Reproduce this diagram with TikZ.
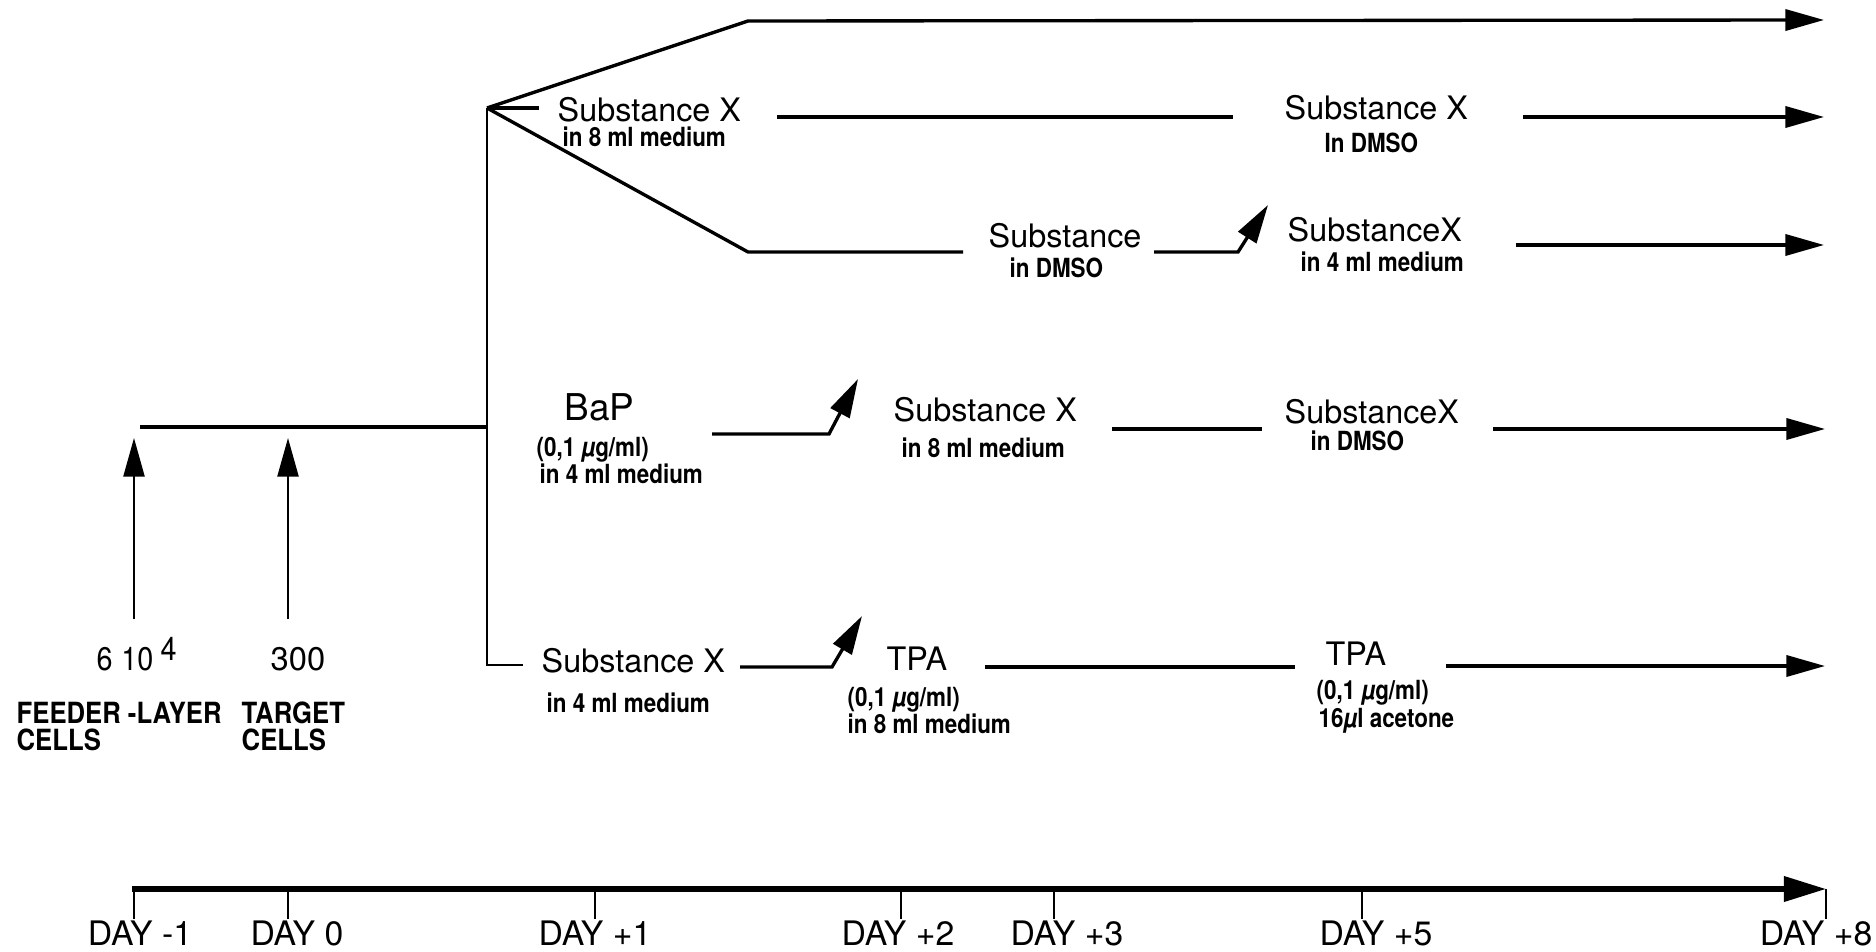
\documentclass[tikz,border=0pt]{standalone}
\usepackage{fontspec}
\setmainfont{TeX Gyre Heros}
\newfontfamily\smf[FakeStretch=0.85]{TeX Gyre Heros}
\newfontfamily\lbf[FakeStretch=0.88]{TeX Gyre Heros}
\usetikzlibrary{arrows.meta}
\begin{document}
\begin{tikzpicture}[x=0.01cm,y=-0.01cm,
  big/.style={inner sep=0,anchor=base west,font=\fontsize{9.2}{10}\selectfont},
  bap/.style={inner sep=0,anchor=base west,font=\fontsize{10.5}{12}\selectfont},
  small/.style={inner sep=0,anchor=base west,font=\smf\bfseries\fontsize{7.5}{8}\selectfont},
  cellsty/.style={inner sep=0,anchor=base west,font=\lbf\bfseries\fontsize{8.3}{9}\selectfont},
  numsty/.style={inner sep=0,anchor=base west,font=\fontsize{9.3}{10}\selectfont},
  daysty/.style={inner sep=0,anchor=base,font=\fontsize{9.6}{10}\selectfont},
  ln/.style={line width=0.95pt},
  trunk/.style={line width=0.8pt},
  arr/.style={ln,-{Triangle[length=11pt,width=6pt]}},
  uparr/.style={line width=0.6pt,-{Triangle[length=11pt,width=6pt]}},
  axis/.style={line width=1.5pt,-{Triangle[length=12pt,width=7pt]}},
  tick/.style={line width=0.6pt}
]
\useasboundingbox (0,0) rectangle (1876,952);

% ---------- coordinates ----------
\coordinate (feedS) at (140,427);
\coordinate (br) at (487,108);
\coordinate (feedE) at (487,427);
\coordinate (trunkB) at (487,665);
\coordinate (trunkE) at (523,665);
\coordinate (upK) at (748,21);
\coordinate (upE) at (1824,20);
\coordinate (midS) at (539,108);
\coordinate (dnK) at (748,252);
\coordinate (dnE) at (963,252);

% ---------- texts ----------
\node[big] (sx1) at (557,122) {Substance X};
\node[small] (sx1b) at (562,147) {in 8 ml medium};
\node[big] (sx2) at (1284,120) {Substance X};
\node[small] (sx2b) at (1324,153) {In DMSO};
\node[big] (s3) at (988,248) {Substance};
\node[small] (s3b) at (1009,278) {in DMSO};
\node[big] (sx4) at (1287,242) {SubstanceX};
\node[small] (sx4b) at (1300,272) {in 4 ml medium};

\node[bap] (bap) at (564,420) {BaP};
\node[small] (bapb) at (536,456) {(0,1 {\itshape µ}g/ml)};
\node[small] (bapc) at (539,483) {in 4 ml medium};
\node[big] (sx5) at (893,422) {Substance X};
\node[small] (sx5b) at (901,457) {in 8 ml medium};
\node[big] (sx6) at (1284,423) {SubstanceX};
\node[small] (sx6b) at (1310,450) {in DMSO};

\node[big] (sx7) at (541,672) {Substance X};
\node[small] (sx7b) at (546,712) {in 4 ml medium};
\node[big] (tpa1) at (886,670) {TPA};
\node[small] (tpa1b) at (847,706) {(0,1 {\itshape µ}g/ml)};
\node[small] (tpa1c) at (847,733) {in 8 ml medium};
\node[big] (tpa2) at (1325,665) {TPA};
\node[small] (tpa2b) at (1316,699) {(0,1 {\itshape µ}g/ml)};
\node[small] (tpa2c) at (1318,727) {16{\itshape µ}l acetone};

\node[numsty,font=\lbf\fontsize{9.3}{10}\selectfont] (n1) at (96,670) {6\hspace{2.5pt}10\hspace{2pt}\raisebox{2.6pt}{4}};
\node[numsty] (n2) at (270,670) {300};
\node[cellsty] (c1) at (16,723) {FEEDER -LAYER};
\node[cellsty] (c2) at (16,750) {CELLS};
\node[cellsty] (c3) at (241,723) {TARGET};
\node[cellsty] (c4) at (241,750) {CELLS};

% ---------- lines ----------
\draw[ln] (feedS) -- (feedE);
\draw[trunk] (br) -- (trunkB) -- (trunkE);
\draw[arr] (br) -- (upK) -- (upE);
\draw[ln] (br) -- (midS);
\draw[ln] (br) -- (dnK) -- (dnE);

\coordinate (m1) at (777,117); \coordinate (m2) at (1233,117);
\draw[ln] (m1) -- (m2);
\coordinate (m3) at (1523,117); \coordinate (m4) at (1824,117);
\draw[arr] (m3) -- (m4);

\coordinate (d1) at (1154,252); \coordinate (d2) at (1238,252); \coordinate (d3) at (1268,205);
\draw[arr] (d1) -- (d2) -- (d3);
\coordinate (d4) at (1516,245); \coordinate (d5) at (1824,245);
\draw[arr] (d4) -- (d5);

\coordinate (b1) at (712,434); \coordinate (b2) at (829,434); \coordinate (b3) at (858,379);
\draw[arr] (b1) -- (b2) -- (b3);
\coordinate (b4) at (1112,429); \coordinate (b5) at (1262,429);
\draw[ln] (b4) -- (b5);
\coordinate (b6) at (1493,429); \coordinate (b7) at (1825,429);
\draw[arr] (b6) -- (b7);

\coordinate (t1) at (740,667); \coordinate (t2) at (832,667); \coordinate (t3) at (862,616);
\draw[arr] (t1) -- (t2) -- (t3);
\coordinate (t4) at (985,667); \coordinate (t5) at (1295,667);
\draw[ln] (t4) -- (t5);
\coordinate (t6) at (1446,666); \coordinate (t7) at (1825,666);
\draw[arr] (t6) -- (t7);

% up arrows
\coordinate (ua1) at (134,619); \coordinate (ua1t) at (134,438);
\coordinate (ua2) at (288,619); \coordinate (ua2t) at (288,438);
\draw[uparr] (ua1) -- (ua1t);
\draw[uparr] (ua2) -- (ua2t);

% ---------- time axis ----------
\coordinate (axS) at (132,889); \coordinate (axE) at (1826,889);
\draw[axis] (axS) -- (axE);
\foreach \x/\lab/\lx in {134/DAY -1/140, 288/DAY 0/297, 595/DAY +1/595, 901/DAY +2/898, 1054/DAY +3/1067, 1362/DAY +5/1376, 1826/DAY +8/1816}{
  \coordinate (tk\x) at (\x,889);
  \coordinate (tkb\x) at (\x,919);
  \draw[tick] (tk\x) -- (tkb\x);
  \node[daysty] (lab\x) at (\lx,945) {\lab};
}
\end{tikzpicture}
\end{document}
